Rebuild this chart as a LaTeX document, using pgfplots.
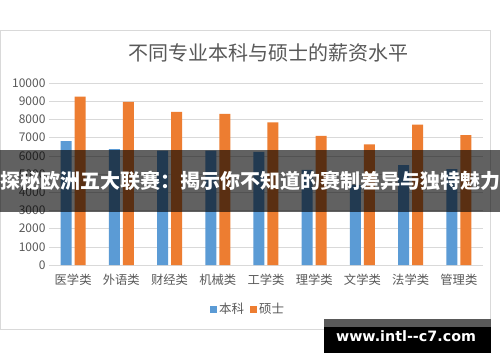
\documentclass[border=0pt]{standalone}
\usepackage{fontspec}
\usepackage{pgfplots}
\pgfplotsset{compat=1.18}
\setmainfont{Noto Sans CJK SC}
\newfontfamily\wmfont{DejaVu Sans}
\definecolor{xlblue}{HTML}{5B9BD5}
\definecolor{xlorange}{HTML}{ED7D31}
\definecolor{txtgray}{HTML}{595959}
\definecolor{gridgray}{HTML}{D9D9D9}
\begin{document}
\begin{tikzpicture}
\useasboundingbox (0pt,0pt) rectangle (500pt,362pt);
\fill[white] (0pt,0pt) rectangle (500pt,362pt);
\draw[gray!30, line width=0.8pt] (0.5pt,33pt) rectangle (490pt,332pt);
\node[text=txtgray, font=\fontsize{20}{20}\selectfont] at (268pt,309.5pt) {不同专业本科与硕士的薪资水平};
\begin{axis}[
  at={(49pt,97pt)}, anchor=south west,
  scale only axis, width=434pt, height=182pt,
  ybar, bar width=11pt,
  xmin=-0.5, xmax=8.5, ymin=0, ymax=10000,
  ytick={0,1000,...,10000},
  scaled y ticks=false,
  xtick={0,...,8},
  xticklabels={医学类,外语类,财经类,机械类,工学类,理学类,文学类,法学类,管理类},
  axis line style={draw=none},
  tick style={draw=none},
  ymajorgrids, grid style={gridgray, line width=0.6pt},
  /pgf/number format/.cd, 1000 sep={}, assume math mode=true,
  /pgfplots/.cd,
  yticklabel style={text=txtgray, font=\fontsize{12}{12}\selectfont},
  xticklabel style={text=txtgray, font=\fontsize{12.3}{12.3}\selectfont, yshift=-1pt},
  legend style={at={(0.459,-0.242)}, anchor=center, draw=none, legend columns=2,
    font=\fontsize{12.5}{12.5}\selectfont, text=txtgray,
    /tikz/every even column/.append style={column sep=4pt}},
  legend image code/.code={\fill[#1] (0pt,-3.5pt) rectangle (7pt,3.5pt);},
]
\addplot[draw=none, fill=xlblue, bar shift=-7pt] coordinates {
(0,6810) (1,6360) (2,6280) (3,6280) (4,6210) (5,5220) (6,4400) (7,5490) (8,5270)};
\addplot[draw=none, fill=xlorange, bar shift=7pt] coordinates {
(0,9250) (1,8960) (2,8410) (3,8310) (4,7840) (5,7100) (6,6630) (7,7710) (8,7140)};
\legend{本科,硕士}
\end{axis}
\fill[black, opacity=0.62] (0pt,150pt) rectangle (500pt,212pt);
\node[text=white, font=\fontsize{20}{20}\selectfont\bfseries] at (250pt,181pt) {探秘欧洲五大联赛：揭示你不知道的赛制差异与独特魅力};
\fill[black] (324pt,9.3pt) rectangle (491pt,43pt);
\fill[black!65] (324pt,35pt) rectangle (491pt,43pt);
\node[text=white, font=\wmfont\fontsize{14.3}{14.3}\selectfont\bfseries] at (406pt,25.5pt) {www.intl--c7.com};
\end{tikzpicture}
\end{document}
